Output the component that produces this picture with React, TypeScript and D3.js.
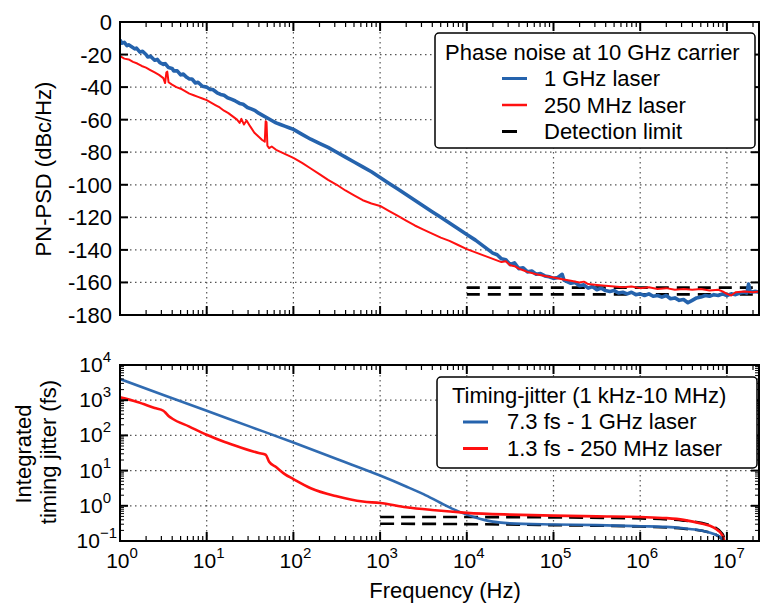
import React from "react";
import * as d3 from "d3";

const W = 761;
const H = 606;

// ---- Data (frequency given as log10(Hz)) ----
// Top panel: phase noise PSD, dBc/Hz
const pnBlue: [number, number][] = [
  [0.0, -11], [0.02, -13], [0.05, -12.5], [0.08, -14.5], [0.1, -14], [0.13, -15], [0.17, -16.5], [0.19, -16],
  [0.23, -18.5], [0.26, -18], [0.3, -20], [0.32, -21.5], [0.35, -21], [0.4, -23.5], [0.43, -23], [0.46, -25],
  [0.5, -26], [0.52, -25.5], [0.56, -28], [0.6, -28.5], [0.62, -30], [0.66, -30], [0.7, -32.5], [0.73, -32],
  [0.77, -34], [0.8, -35], [0.83, -35], [0.87, -37.5], [0.9, -37], [0.95, -39.5], [1.0, -40], [1.04, -41.5],
  [1.07, -41.5], [1.12, -43.5], [1.16, -44.5], [1.2, -45], [1.24, -46.5], [1.29, -47.5], [1.33, -48.5], [1.38, -50],
  [1.42, -50.5], [1.47, -52.5], [1.52, -53.5], [1.56, -54.5], [1.6, -56], [1.65, -57.5], [1.7, -59], [1.75, -60.5],
  [1.8, -62], [1.85, -63], [1.9, -64], [1.95, -65], [2.0, -66], [2.1, -69], [2.2, -72], [2.3, -74.5],
  [2.4, -77], [2.5, -80], [2.6, -83], [2.7, -86], [2.8, -89], [2.9, -92], [3.0, -95.5], [3.1, -99],
  [3.2, -102.5], [3.3, -106], [3.4, -109.5], [3.5, -113], [3.6, -116.5], [3.7, -120], [3.8, -123.5], [3.9, -127],
  [4.0, -130.5], [4.1, -134], [4.2, -138], [4.3, -142], [4.35, -143], [4.4, -145.5], [4.45, -146], [4.5, -149],
  [4.55, -148], [4.6, -151.5], [4.65, -151], [4.7, -153.5], [4.75, -153], [4.8, -155], [4.85, -154.5], [4.9, -156],
  [4.95, -156.5], [5.0, -157.5], [5.05, -157], [5.1, -155], [5.12, -158.5], [5.2, -160.5], [5.25, -160], [5.3, -162],
  [5.35, -161.5], [5.4, -163.5], [5.45, -162.5], [5.5, -164.5], [5.55, -163.5], [5.6, -165], [5.65, -165.5], [5.7, -165],
  [5.75, -166.5], [5.8, -166], [5.85, -167], [5.9, -166], [5.95, -167.5], [6.0, -167], [6.05, -168], [6.1, -167],
  [6.15, -168.5], [6.2, -168], [6.25, -169], [6.3, -168], [6.35, -170], [6.4, -169.5], [6.45, -171], [6.5, -170.5],
  [6.55, -172.5], [6.6, -171], [6.65, -169.5], [6.7, -169], [6.75, -168], [6.8, -168.5], [6.85, -167.5], [6.9, -168],
  [6.95, -167], [7.0, -168], [7.05, -167], [7.1, -167.5], [7.15, -166.5], [7.2, -166], [7.23, -166.5], [7.25, -161],
  [7.27, -166], [7.32, -165.5], [7.38, -166],
];

const pnRed: [number, number][] = [
  [0.0, -21], [0.05, -22.5], [0.1, -23], [0.15, -24.5], [0.2, -25.5], [0.25, -27], [0.3, -28], [0.35, -29.5],
  [0.4, -31], [0.45, -32.5], [0.5, -34.5], [0.52, -37.5], [0.535, -31], [0.545, -30.5], [0.56, -37], [0.6, -38.5],
  [0.65, -40], [0.7, -41], [0.75, -42.5], [0.8, -44], [0.85, -45], [0.9, -46], [0.95, -47], [1.0, -48],
  [1.05, -49.5], [1.1, -51], [1.15, -52.5], [1.2, -54.5], [1.25, -56], [1.3, -58], [1.35, -60], [1.38, -62],
  [1.4, -59.5], [1.43, -63], [1.46, -60.5], [1.5, -64], [1.55, -68], [1.6, -70.5], [1.64, -72.5], [1.67, -73.5],
  [1.68, -61], [1.69, -61.5], [1.7, -76], [1.72, -77.5], [1.75, -76.5], [1.8, -78.5], [1.9, -81], [2.0, -83.5],
  [2.1, -86.5], [2.2, -90], [2.3, -93.5], [2.4, -97], [2.5, -100], [2.6, -103.5], [2.7, -106.5], [2.8, -109.5],
  [2.9, -111.5], [3.0, -113], [3.1, -116], [3.2, -119], [3.3, -122], [3.4, -125], [3.5, -127.5], [3.6, -130],
  [3.7, -132.5], [3.8, -134.5], [3.9, -137], [4.0, -139.5], [4.1, -141.5], [4.2, -143.5], [4.3, -145.5], [4.4, -147.5],
  [4.45, -147], [4.5, -149.5], [4.55, -150], [4.6, -151.5], [4.65, -152.5], [4.7, -153.5], [4.8, -155], [4.9, -156],
  [5.0, -157], [5.1, -158], [5.2, -159], [5.3, -160], [5.35, -159.5], [5.4, -161], [5.5, -161.5], [5.6, -162],
  [5.7, -162.5], [5.8, -163], [5.9, -162.5], [6.0, -163.5], [6.1, -163], [6.2, -164], [6.3, -163.5], [6.4, -164.5],
  [6.5, -164], [6.6, -164.5], [6.7, -164], [6.8, -165], [6.9, -164.5], [6.95, -165.5], [7.0, -167], [7.05, -168],
  [7.1, -166], [7.2, -165.5], [7.3, -166], [7.38, -165.5],
];

const detTopLevels = [-163.2, -167.3];
const detTopStartExp = 4;

// Bottom panel: integrated timing jitter, log10(fs)
const jitBlue: [number, number][] = [
  [0.0, 3.6], [0.5, 3.15], [1.0, 2.7], [1.5, 2.25], [2.0, 1.8], [2.5, 1.33], [3.0, 0.86], [3.3, 0.55],
  [3.5, 0.33], [3.7, 0.08], [3.85, -0.1], [4.0, -0.25], [4.1, -0.33], [4.2, -0.4], [4.3, -0.45], [4.5, -0.5],
  [5.0, -0.53], [5.5, -0.55], [6.0, -0.58], [6.3, -0.6], [6.5, -0.64], [6.7, -0.7], [6.85, -0.8], [6.95, -0.95],
  [7.0, -1.3],
];

const jitRed: [number, number][] = [
  [0.0, 3.08], [0.2, 2.95], [0.4, 2.78], [0.5, 2.7], [0.52, 2.66], [0.56, 2.55], [0.6, 2.48], [0.8, 2.25],
  [1.0, 2.02], [1.2, 1.82], [1.4, 1.65], [1.6, 1.5], [1.68, 1.45], [1.72, 1.25], [1.8, 1.1], [1.9, 0.9],
  [2.0, 0.76], [2.2, 0.5], [2.5, 0.27], [2.8, 0.12], [3.0, 0.08], [3.3, -0.04], [3.6, -0.12], [4.0, -0.2],
  [4.5, -0.25], [5.0, -0.28], [5.5, -0.3], [6.0, -0.32], [6.3, -0.35], [6.5, -0.4], [6.7, -0.5], [6.85, -0.62],
  [6.95, -0.85], [7.0, -1.3],
];

const detBotUpper: [number, number][] = [
  [3.0, -0.32], [4.0, -0.32], [5.0, -0.33], [6.0, -0.36], [6.5, -0.42], [6.8, -0.55], [6.95, -0.8], [7.0, -1.3],
];
const detBotLower: [number, number][] = [
  [3.0, -0.51], [4.0, -0.52], [5.0, -0.55], [6.0, -0.59], [6.5, -0.65], [6.8, -0.76], [6.95, -0.96], [7.0, -1.3],
];

const topYTicks = [0, -20, -40, -60, -80, -100, -120, -140, -160, -180];
const botYTickExps = [-1, 0, 1, 2, 3, 4];
const xTickExps = [0, 1, 2, 3, 4, 5, 6, 7];

const legendTop = ["1 GHz laser", "250 MHz laser", "Detection limit"];
const legendBot = ["7.3 fs - 1 GHz laser", "1.3 fs - 250 MHz laser"];

const BLUE = "#2563ad";
const RED = "#ff1010";
const FONT = "'Liberation Sans', Arial, Helvetica, sans-serif";

const L = 120;
const R = 759;
const topT = 22;
const topB = 315;
const botT = 365;
const botB = 541;

const x = d3.scaleLog().domain([1, Math.pow(10, (R - L) / 86.7)]).range([L, R]);
const yTop = d3.scaleLinear().domain([-180, 0]).range([topB, topT]);
const yBot = d3.scaleLog().domain([0.1, 1e4]).range([botB, botT]);

const p10 = (e: number) => Math.pow(10, e);

const lineTop = d3
  .line<[number, number]>()
  .x((d) => x(p10(d[0])))
  .y((d) => yTop(d[1]));
const lineBot = d3
  .line<[number, number]>()
  .x((d) => x(p10(d[0])))
  .y((d) => yBot(p10(d[1])))
  .curve(d3.curveMonotoneX);

const xMax = x.domain()[1];
const minorX: number[] = [];
for (let d = 0; d < 8; d++) for (let k = 2; k <= 9; k++) { const v = k * p10(d); if (v < xMax) minorX.push(v); }
const minorYBot: number[] = [];
for (let d = -1; d < 4; d++) for (let k = 2; k <= 9; k++) minorYBot.push(k * p10(d));

const GRID = { stroke: "#555", strokeWidth: 1.2, strokeDasharray: "1.5,3.5" };

function XTicks({ top, bottom }: { top: number; bottom: number }) {
  return (
    <g stroke="#000">
      {xTickExps.map((e) => (
        <g key={"M" + e}>
          <line x1={x(p10(e))} x2={x(p10(e))} y1={bottom} y2={bottom - 9} strokeWidth={2} />
          <line x1={x(p10(e))} x2={x(p10(e))} y1={top} y2={top + 9} strokeWidth={2} />
        </g>
      ))}
      {minorX.map((v, i) => (
        <g key={"m" + i}>
          <line x1={x(v)} x2={x(v)} y1={bottom} y2={bottom - 5} strokeWidth={1.2} />
          <line x1={x(v)} x2={x(v)} y1={top} y2={top + 5} strokeWidth={1.2} />
        </g>
      ))}
    </g>
  );
}

export default function App() {
  return (
    <svg
      width={W}
      height={H}
      style={{ display: "block", background: "#fff", position: "absolute", left: 0, top: 0 }}
      fontFamily={FONT}
    >
      <defs>
        <clipPath id="clipTop"><rect x={L} y={topT} width={R - L} height={topB - topT} /></clipPath>
        <clipPath id="clipBot"><rect x={L} y={botT} width={R - L} height={botB - botT} /></clipPath>
      </defs>

      {/* ---------- TOP PANEL ---------- */}
      <g>
        {xTickExps.slice(1).map((e) => (
          <line key={e} x1={x(p10(e))} x2={x(p10(e))} y1={topT} y2={topB} {...GRID} />
        ))}
        {topYTicks.slice(1, -1).map((v) => (
          <line key={v} x1={L} x2={R} y1={yTop(v)} y2={yTop(v)} {...GRID} />
        ))}
        <g clipPath="url(#clipTop)">
          {detTopLevels.map((lv) => (
            <line key={lv} x1={x(p10(detTopStartExp))} x2={R} y1={yTop(lv)} y2={yTop(lv)} stroke="#000" strokeWidth={2.6} strokeDasharray="13,8" />
          ))}
          <path d={lineTop(pnBlue) || ""} fill="none" stroke={BLUE} strokeWidth={3.6} strokeLinejoin="round" />
          <path d={lineTop(pnRed) || ""} fill="none" stroke={RED} strokeWidth={2} strokeLinejoin="round" />
        </g>
        <XTicks top={topT} bottom={topB} />
        <g stroke="#000" strokeWidth={2}>
          {topYTicks.map((v) => (
            <g key={v}>
              <line x1={L} x2={L + 8} y1={yTop(v)} y2={yTop(v)} />
              <line x1={R} x2={R - 8} y1={yTop(v)} y2={yTop(v)} />
            </g>
          ))}
        </g>
        <rect x={L} y={topT} width={R - L} height={topB - topT} fill="none" stroke="#000" strokeWidth={2} />
        {topYTicks.map((v) => (
          <text key={v} x={112} y={yTop(v) + 8} textAnchor="end" fontSize={22}>{v}</text>
        ))}
        <text transform={`translate(51,169) rotate(-90)`} textAnchor="middle" fontSize={22}>PN-PSD (dBc/Hz)</text>

        {/* legend */}
        <rect x={435} y={33} width={320} height={115} rx={4} fill="#fff" stroke="#000" strokeWidth={1.5} />
        <text x={445} y={60} fontSize={22}>Phase noise at 10 GHz carrier</text>
        <line x1={502} x2={527} y1={78.5} y2={78.5} stroke={BLUE} strokeWidth={3} />
        <line x1={502} x2={527} y1={105} y2={105} stroke={RED} strokeWidth={2.5} />
        <line x1={502} x2={527} y1={131.5} y2={131.5} stroke="#000" strokeWidth={3} strokeDasharray="15,30" />
        {legendTop.map((t, i) => (
          <text key={t} x={544} y={86 + i * 26.5} fontSize={22}>{t}</text>
        ))}
      </g>

      {/* ---------- BOTTOM PANEL ---------- */}
      <g>
        {xTickExps.slice(1).map((e) => (
          <line key={e} x1={x(p10(e))} x2={x(p10(e))} y1={botT} y2={botB} {...GRID} />
        ))}
        {botYTickExps.slice(1, -1).map((e) => (
          <line key={e} x1={L} x2={R} y1={yBot(p10(e))} y2={yBot(p10(e))} {...GRID} />
        ))}
        <g clipPath="url(#clipBot)">
          <path d={lineBot(detBotUpper) || ""} fill="none" stroke="#000" strokeWidth={2.6} strokeDasharray="14,7" />
          <path d={lineBot(detBotLower) || ""} fill="none" stroke="#000" strokeWidth={2.6} strokeDasharray="14,7" />
          <path d={lineBot(jitBlue) || ""} fill="none" stroke={BLUE} strokeWidth={2.6} opacity={0.95} />
          <path d={lineBot(jitRed) || ""} fill="none" stroke={RED} strokeWidth={2.6} />
        </g>
        <XTicks top={botT} bottom={botB} />
        <g stroke="#000">
          {botYTickExps.map((e) => (
            <g key={e}>
              <line x1={L} x2={L + 8} y1={yBot(p10(e))} y2={yBot(p10(e))} strokeWidth={2} />
              <line x1={R} x2={R - 8} y1={yBot(p10(e))} y2={yBot(p10(e))} strokeWidth={2} />
            </g>
          ))}
          {minorYBot.map((v, i) => (
            <g key={i}>
              <line x1={L} x2={L + 4} y1={yBot(v)} y2={yBot(v)} strokeWidth={1} />
              <line x1={R} x2={R - 4} y1={yBot(v)} y2={yBot(v)} strokeWidth={1} />
            </g>
          ))}
        </g>
        <rect x={L} y={botT} width={R - L} height={botB - botT} fill="none" stroke="#000" strokeWidth={2} />
        {botYTickExps.map((e) => (
          <text key={e} x={e < 0 ? 117 : 111} y={yBot(p10(e)) + 7} textAnchor="end" fontSize={21}>
            10<tspan dy={-10} fontSize={15}>{e < 0 ? "\u22121" : String(e)}</tspan>
          </text>
        ))}
        {xTickExps.map((e) => (
          <text key={e} x={x(p10(e)) + 2} y={568} textAnchor="middle" fontSize={21}>
            10<tspan dy={-10} fontSize={15}>{String(e)}</tspan>
          </text>
        ))}
        <text x={445} y={598} textAnchor="middle" fontSize={22}>Frequency (Hz)</text>
        <text transform={`translate(31,454) rotate(-90)`} textAnchor="middle" fontSize={22}>Integrated</text>
        <text transform={`translate(56,452) rotate(-90)`} textAnchor="middle" fontSize={22}>timing jitter (fs)</text>

        {/* legend */}
        <rect x={437} y={377} width={320} height={91} rx={4} fill="#fff" stroke="#000" strokeWidth={1.5} />
        <text x={452} y={403} fontSize={22}>Timing-jitter (1 kHz-10 MHz)</text>
        <line x1={463} x2={488} y1={422} y2={422} stroke={BLUE} strokeWidth={3} />
        <line x1={463} x2={488} y1={448.5} y2={448.5} stroke={RED} strokeWidth={3} />
        {legendBot.map((t, i) => (
          <text key={t} x={507} y={429 + i * 26.5} fontSize={22}>{t}</text>
        ))}
      </g>
    </svg>
  );
}
